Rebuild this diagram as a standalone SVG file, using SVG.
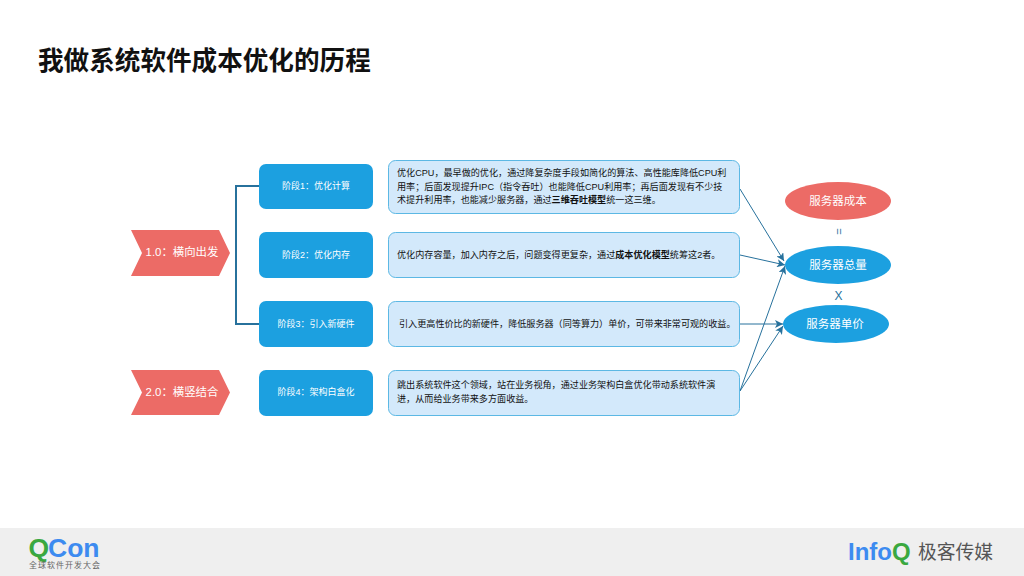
<svg xmlns="http://www.w3.org/2000/svg" width="1024" height="576" viewBox="0 0 1024 576">
<style>
text{font-family:"Liberation Sans","Noto Sans CJK SC",sans-serif}
.stage{fill:#1ca0e0}
.desc{fill:#d3e9fb;stroke:#5cb8e4;stroke-width:1}
.red{fill:#ec6b66}
.blue{fill:#1ca0e0}
.w{fill:#fff;text-anchor:middle}
.s{font-size:9px}
.m{font-size:11.400px}
.e{font-size:11.500px}
.d{font-size:9.100px;fill:#111}
.b{font-weight:700}
.conn{fill:none;stroke:#27719c;stroke-width:1}
</style>
<defs>
<marker id="arr" markerWidth="9" markerHeight="8" refX="8" refY="4" orient="auto" markerUnits="userSpaceOnUse">
<path d="M0,0L8,4L0,8L2,4Z" fill="#27719c"/>
</marker>
</defs>
<rect width="1024" height="576" fill="#fff"/>
<text x="38" y="70" font-size="25.600" font-weight="700" fill="#111">我做系统软件成本优化的历程</text>

<g id="connectors">
<path d="M259,186H236V324H259" fill="none" stroke="#27719c" stroke-width="2"/>
<path class="conn" d="M740,189L784,261" marker-end="url(#arr)"/>
<path class="conn" d="M740,255L785,265" marker-end="url(#arr)"/>
<path class="conn" d="M740,324L783,324" marker-end="url(#arr)"/>
<path class="conn" d="M740,391L785,266" marker-end="url(#arr)"/>
<path class="conn" d="M740,391L783,326" marker-end="url(#arr)"/>
</g>

<g id="start1"><path class="red" d="M131,230H219L230,253L219,276H131L142,253Z"/><text class="w m" x="182" y="256">1.0：横向出发</text></g>
<g id="start2"><path class="red" d="M131,370H219L230,392.500L219,415H131L142,392.500Z"/><text class="w m" x="182" y="396">2.0：横竖结合</text></g>

<g id="stage1"><rect class="stage" x="259" y="164" width="114" height="45" rx="7"/><text class="w s" x="316" y="189">阶段1：优化计算</text></g>
<g id="stage2"><rect class="stage" x="259" y="232" width="114" height="46" rx="7"/><text class="w s" x="316" y="258">阶段2：优化内存</text></g>
<g id="stage3"><rect class="stage" x="259" y="301" width="114" height="46" rx="7"/><text class="w s" x="316" y="327">阶段3：引入新硬件</text></g>
<g id="stage4"><rect class="stage" x="259" y="370" width="114" height="46" rx="7"/><text class="w s" x="316" y="395">阶段4：架构白盒化</text></g>

<g id="desc1"><rect class="desc" x="388.500" y="160.500" width="351" height="53" rx="7"/>
<text class="d" x="397" y="176">优化CPU，最早做的优化，通过降复杂度手段如简化的算法、高性能库降低CPU利</text>
<text class="d" x="397" y="190">用率；后面发现提升IPC（指令吞吐）也能降低CPU利用率；再后面发现有不少技</text>
<text class="d" x="397" y="203">术提升利用率，也能减少服务器，通过<tspan class="b">三维吞吐模型</tspan>统一这三维。</text></g>
<g id="desc2"><rect class="desc" x="388.500" y="232.500" width="351" height="45" rx="7"/>
<text class="d" x="397" y="258">优化内存容量，加入内存之后，问题变得更复杂，通过<tspan class="b">成本优化模型</tspan>统筹这2者。</text></g>
<g id="desc3"><rect class="desc" x="388.500" y="301.500" width="351" height="45" rx="7"/>
<text class="d" x="399" y="327">引入更高性价比的新硬件，降低服务器（同等算力）单价，可带来非常可观的收益。</text></g>
<g id="desc4"><rect class="desc" x="388.500" y="370.500" width="351" height="45" rx="7"/>
<text class="d" x="397" y="388">跳出系统软件这个领域，站在业务视角，通过业务架构白盒优化带动系统软件演</text>
<text class="d" x="397" y="402">进，从而给业务带来多方面收益。</text></g>

<g id="cost"><ellipse class="red" cx="838" cy="201" rx="53" ry="19"/><text class="w e" x="838" y="205">服务器成本</text></g>
<g id="total"><ellipse class="blue" cx="838" cy="265" rx="53" ry="19"/><text class="w e" x="838" y="269">服务器总量</text></g>
<g id="price"><ellipse class="blue" cx="836" cy="324" rx="53" ry="19"/><text class="w e" x="835" y="328">服务器单价</text></g>
<text transform="translate(838.500 231.500) rotate(90)" y="4" font-size="11" fill="#27719c" text-anchor="middle">=</text>
<text x="838.500" y="300" font-size="12" fill="#27719c" text-anchor="middle">X</text>

<rect y="528" width="1024" height="48" fill="#efefef"/>
<g id="logo-qcon">
<text x="28.500" y="557" font-size="26.500" font-weight="700" fill="#3aa83f">Q</text>
<text x="48" y="557" font-size="26.500" font-weight="700" fill="#3d8bf0">Con</text>
<text x="29" y="568" font-size="8" fill="#666" letter-spacing="1">全球软件开发大会</text>
</g>
<g id="logo-infoq">
<text x="848" y="560" font-size="24" font-weight="700" fill="#3d8bf0">Info</text>
<text x="892" y="560" font-size="24" font-weight="700" fill="#3aa83f">Q</text>
<text x="918" y="559" font-size="18.750" fill="#555">极客传媒</text>
</g>
</svg>
